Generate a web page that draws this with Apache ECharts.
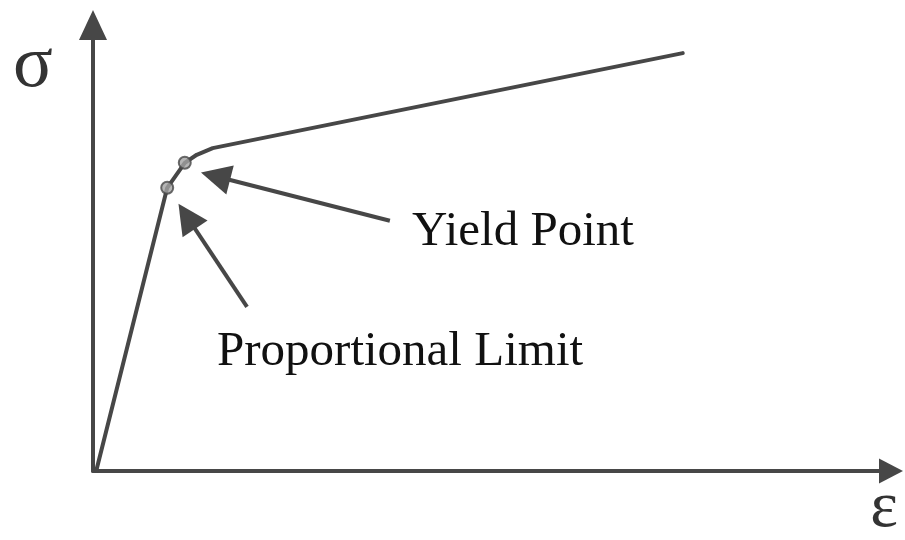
<!DOCTYPE html>
<html>
<head>
<meta charset="utf-8">
<script src="https://cdn.jsdelivr.net/npm/echarts@6/dist/echarts.min.js"></script>
<style>html,body{margin:0;padding:0;background:#fff}#c{width:905px;height:540px}</style>
</head>
<body>
<div id="c"></div>
<script>
// Stress–strain curve (arbitrary units, 0..100 on both axes)
const strain = [0.4, 9.3, 11.5, 13.0, 15.0, 73.9];
const stress = [0, 63.5, 69.1, 70.9, 72.4, 93.7];
const pointNames = ['Proportional Limit', 'Yield Point'];
const pointStrain = [9.3, 11.5];
const pointStress = [63.5, 69.1];
// annotation arrows: [tail, head] in data units
const yieldArrow = [[37.2, 56.1], [15.35, 66.1]];
const propArrow = [[19.3, 36.8], [11.75, 57.1]];
const axisNames = ['ε', 'σ'];

const ink = '#474747';
const chart = echarts.init(document.getElementById('c'), null, {renderer: 'canvas'});
chart.setOption({
  animation: false,
  backgroundColor: '#ffffff',
  grid: {left: 93, right: 14, top: 25, bottom: 69},
  xAxis: {
    type: 'value', min: 0, max: 100,
    axisLine: {show: true, symbol: ['none', 'triangle'], symbolSize: [25, 24],
      lineStyle: {color: ink, width: 4}},
    axisTick: {show: false}, axisLabel: {show: false}, splitLine: {show: false}
  },
  yAxis: {
    type: 'value', min: 0, max: 100,
    axisLine: {show: true, symbol: ['none', 'triangle'], symbolSize: [28, 30],
      lineStyle: {color: ink, width: 4}},
    axisTick: {show: false}, axisLabel: {show: false}, splitLine: {show: false}
  },
  series: [
    {
      type: 'line',
      data: strain.map((x, i) => [x, stress[i]]),
      showSymbol: false,
      symbol: 'none',
      lineStyle: {color: ink, width: 4, cap: 'round', join: 'round'},
      silent: true,
      markLine: {
        silent: true,
        symbol: ['none', 'triangle'],
        symbolSize: 30,
        label: {show: false},
        lineStyle: {color: ink, width: 4, type: 'solid'},
        emphasis: {disabled: true},
        data: [
          [{coord: yieldArrow[0]}, {coord: yieldArrow[1]}],
          [{coord: propArrow[0]}, {coord: propArrow[1]}]
        ]
      },
      z: 2
    },
    {
      type: 'scatter',
      data: pointStrain.map((x, i) => ({name: pointNames[i], value: [x, pointStress[i]]})),
      symbol: 'circle',
      symbolSize: 12,
      itemStyle: {color: '#a3a3a3', borderColor: ink, borderWidth: 2},
      silent: true,
      z: 3
    }
  ],
  graphic: [
    {type: 'text', left: null, x: 33, y: 67, style: {text: axisNames[1], font: '74px "Liberation Serif"', fill: '#333', align: 'center', verticalAlign: 'middle'}},
    {type: 'text', x: 884, y: 509, style: {text: axisNames[0], font: '66px "Liberation Serif"', fill: '#333', align: 'center', verticalAlign: 'middle'}},
    {type: 'text', x: 412, y: 232, style: {text: pointNames[1], font: '49px "Liberation Serif"', fill: '#111', align: 'left', verticalAlign: 'middle'}},
    {type: 'text', x: 217, y: 352, style: {text: pointNames[0], font: '49px "Liberation Serif"', fill: '#111', align: 'left', verticalAlign: 'middle'}}
  ]
});
</script>
</body>
</html>
